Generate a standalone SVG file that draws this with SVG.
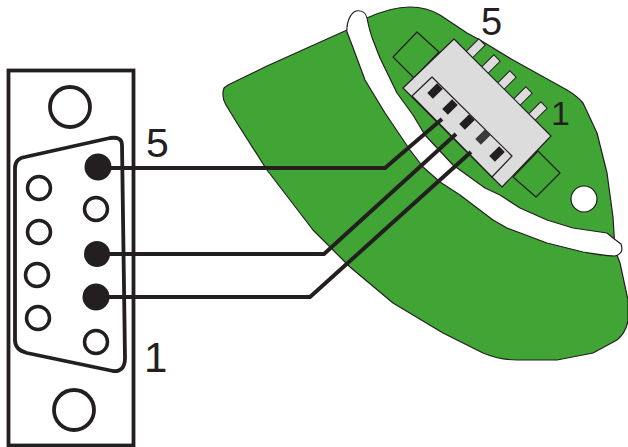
<svg xmlns="http://www.w3.org/2000/svg" width="628" height="447" viewBox="0 0 628 447">
<style>
.t{font-family:"Liberation Sans",Arial,sans-serif;fill:#231f20}
.o{fill:none;stroke:#231f20;stroke-width:3.8}
.p{fill:#231f20}
.h{fill:#fff;stroke:#231f20;stroke-width:3.5}
.e{stroke:#231f20;stroke-width:1.2;stroke-linejoin:round}
.g{fill:#41a535}
.b{fill:#dcdcdc}
.w{fill:#fff}
.k{fill:#231f20}
.pin{fill:#dcdcdc;stroke:#231f20;stroke-width:1}
.wire{fill:none;stroke:#231f20;stroke-width:4;stroke-linejoin:miter}
</style>
<g id="board">
<path class="g e" d="M224 88C222 94 223 100 226 105L237 123L267 170L290 200L313 230L350 267L393 303L443 333L483 353C495 358 505 360 517 360L557 360L593 353L617 340C624 334 627 328 628 320L628 300L620 263L615 250L613 217L607 173L597 133L583 103C578 97 572 93 567 90L513 60L480 40L467 33L440 15C430 9 420 7 410 7C395 7 380 12 367 18L347 30L267 66L228 85Z"/>
<path id="slot" class="w e" d="M347 32C346 24 350 13 356 11C362 10 366 13 367 18C369 28 371 35 373 40L380 58L397 93L413 115L425 135L453 165L485 188L500 195L520 208L547 220L573 228L607 233L613 238L621 244C623 250 622 254 615 256C605 256 595 254 583 252L547 243L507 228L493 220L460 195L440 182L423 167L410 150L385 113L365 80L352 45Z"/>
<circle id="hole" class="w e" cx="584" cy="199" r="13"/>
</g>
<g id="header">
<path class="e" fill="none" d="M417 32L393 57L414 78L439 52Z"/>
<path class="e" fill="none" d="M538 151L560 173L536 197L513 177Z"/>
<g class="pins">
<rect class="pin" x="-4.500" y="0" width="9" height="18" transform="translate(482 42) rotate(45)"/>
<rect class="pin" x="-4.500" y="0" width="9" height="18" transform="translate(497 58) rotate(45)"/>
<rect class="pin" x="-4.500" y="0" width="9" height="18" transform="translate(513 74) rotate(45)"/>
<rect class="pin" x="-4.500" y="0" width="9" height="18" transform="translate(529 90) rotate(45)"/>
<rect class="pin" x="-4.500" y="0" width="9" height="18" transform="translate(544 105) rotate(45)"/>
</g>
<path class="b e" d="M454 39L551 136L502 187L403 88Z"/>
<path class="b e" d="M432 77L512 156L492 177L412 96Z"/>
<rect class="k" x="-7" y="-4" width="14" height="8" transform="translate(435 91) rotate(-45)"/>
<rect class="k" x="-7" y="-4" width="14" height="8" transform="translate(450 107) rotate(-45)"/>
<rect class="k" x="-7" y="-4" width="14" height="8" transform="translate(467 122) rotate(-45)"/>
<rect fill="#3a3a3a" x="-7" y="-4" width="14" height="8" transform="translate(483 137) rotate(-45)"/>
<rect class="k" x="-7" y="-4" width="14" height="8" transform="translate(497 154) rotate(-45)"/>
</g>
<g id="dsub">
<rect class="o" x="8.500" y="70.500" width="125" height="375"/>
<circle class="o" cx="70" cy="107" r="20"/>
<circle class="o" cx="74" cy="410" r="20"/>
<path class="o" d="M15 168C15 161 19 158 25 157L110 138C118 137 122 139 122 145L125 358C125 368 120 372 113 371L27 353C19 351 15 347 15 340Z"/>
<circle class="p" cx="98" cy="167" r="13.500"/>
<circle class="p" cx="97" cy="254" r="13"/>
<circle class="p" cx="96" cy="297" r="13.500"/>
<circle class="h" cx="96" cy="209" r="11.500"/>
<circle class="h" cx="96" cy="342" r="11.500"/>
<circle class="h" cx="39" cy="188" r="11.500"/>
<circle class="h" cx="39" cy="232" r="11.500"/>
<circle class="h" cx="37" cy="275" r="11.500"/>
<circle class="h" cx="38" cy="318" r="11.500"/>
</g>
<g id="connectors">
<path class="wire" d="M98 168L385 168L442 119"/>
<path class="wire" d="M97 254L324 254L456 134"/>
<path class="wire" d="M96 297L310 297L471 152"/>
</g>
<g id="labels">
<text class="t" x="146" y="157" font-size="41">5</text>
<text class="t" x="144" y="372" font-size="42">1</text>
<text class="t" x="481" y="35" font-size="38">5</text>
<text class="t" x="551" y="125" font-size="34">1</text>
</g>
</svg>
